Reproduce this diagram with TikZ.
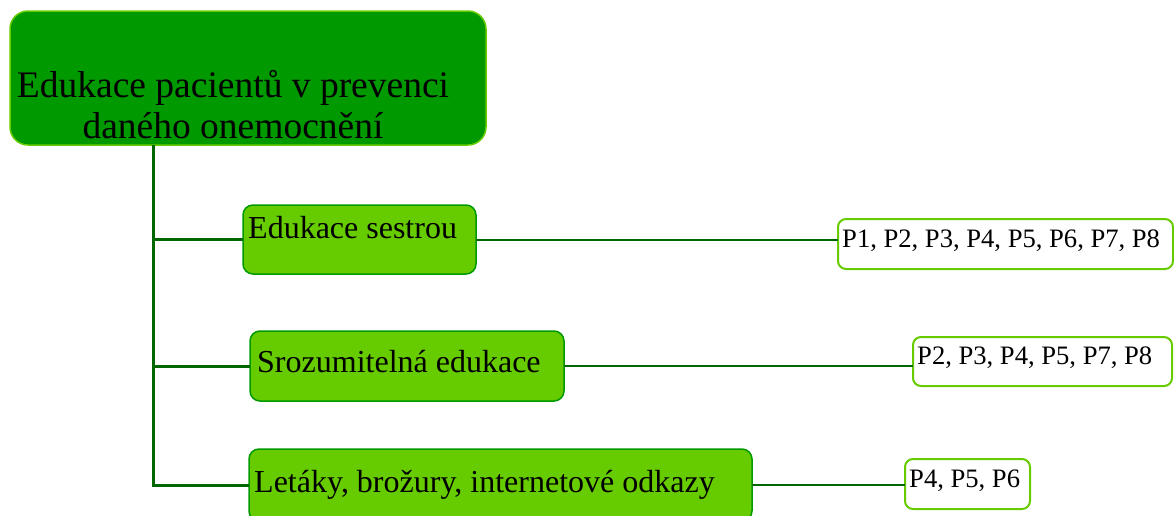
\documentclass[tikz,border=0pt]{standalone}
\usepackage{fontspec}
\setmainfont{Liberation Serif}
\definecolor{dkgreen}{HTML}{009900}
\definecolor{ltgreen}{HTML}{66CC00}
\definecolor{linegreen}{HTML}{006600}
\tikzset{
  box/.style={anchor=north west, inner sep=0pt, outer sep=0pt},
  mainbox/.style={box, rounded corners=18pt, fill=dkgreen, draw=ltgreen, line width=1.5pt},
  subbox/.style={box, rounded corners=10pt, fill=ltgreen, draw=dkgreen, line width=1.5pt},
  refbox/.style={box, rounded corners=8pt, fill=white, draw=ltgreen, line width=2pt},
  subtxt/.style={anchor=base west, inner sep=0pt, font=\fontsize{32}{36}\selectfont},
  reftxt/.style={anchor=base west, inner sep=0pt, font=\fontsize{26.6}{31}\selectfont},
  trunk/.style={draw=linegreen, line width=3pt},
  thin/.style={draw=linegreen, line width=2pt},
}
\begin{document}
\begin{tikzpicture}[x=1pt,y=-1pt]
\useasboundingbox (0,0) rectangle (1174,515);
% boxes
\node[mainbox, minimum width=476pt, minimum height=134pt] (top) at (10,11) {};
\node[subbox, minimum width=233pt, minimum height=69pt] (b1) at (243,205) {};
\node[subbox, minimum width=314pt, minimum height=70pt] (b2) at (250,331) {};
\node[subbox, minimum width=503pt, minimum height=72pt] (b3) at (249,449) {};
\node[refbox, minimum width=335pt, minimum height=50pt] (r1) at (838,219) {};
\node[refbox, minimum width=259pt, minimum height=49pt] (r2) at (913,337) {};
\node[refbox, minimum width=125pt, minimum height=50pt] (r3) at (905,459) {};
% texts
\node[anchor=north, inner sep=0pt, align=center, font=\fontsize{37.5}{41}\selectfont] (toptxt) at (233,70)
  {Edukace pacientů v prevenci\\daného onemocnění};
\node[subtxt] (t1) at (248,238) {Edukace sestrou};
\node[subtxt] (t2) at (257,372) {Srozumitelná edukace};
\node[subtxt] (t3) at (254,492) {Letáky, brožury, internetové odkazy};
\node[reftxt] (s1) at (842,247) {P1, P2, P3, P4, P5, P6, P7, P8};
\node[reftxt] (s2) at (917,364) {P2, P3, P4, P5, P7, P8};
\node[reftxt] (s3) at (909,487) {P4, P5, P6};
% connectors
\coordinate (j3) at (153,485);
\draw[trunk] (top.south -| j3) -- (j3) -- (b3.west);
\draw[trunk] (b1.west -| j3) -- (b1.west);
\draw[trunk] (b2.west -| j3) -- (b2.west);
\draw[thin] (b1.east) -- (b1.east -| r1.west);
\draw[thin] (b2.east) -- (b2.east -| r2.west);
\draw[thin] (b3.east) -- (b3.east -| r3.west);
\end{tikzpicture}
\end{document}
